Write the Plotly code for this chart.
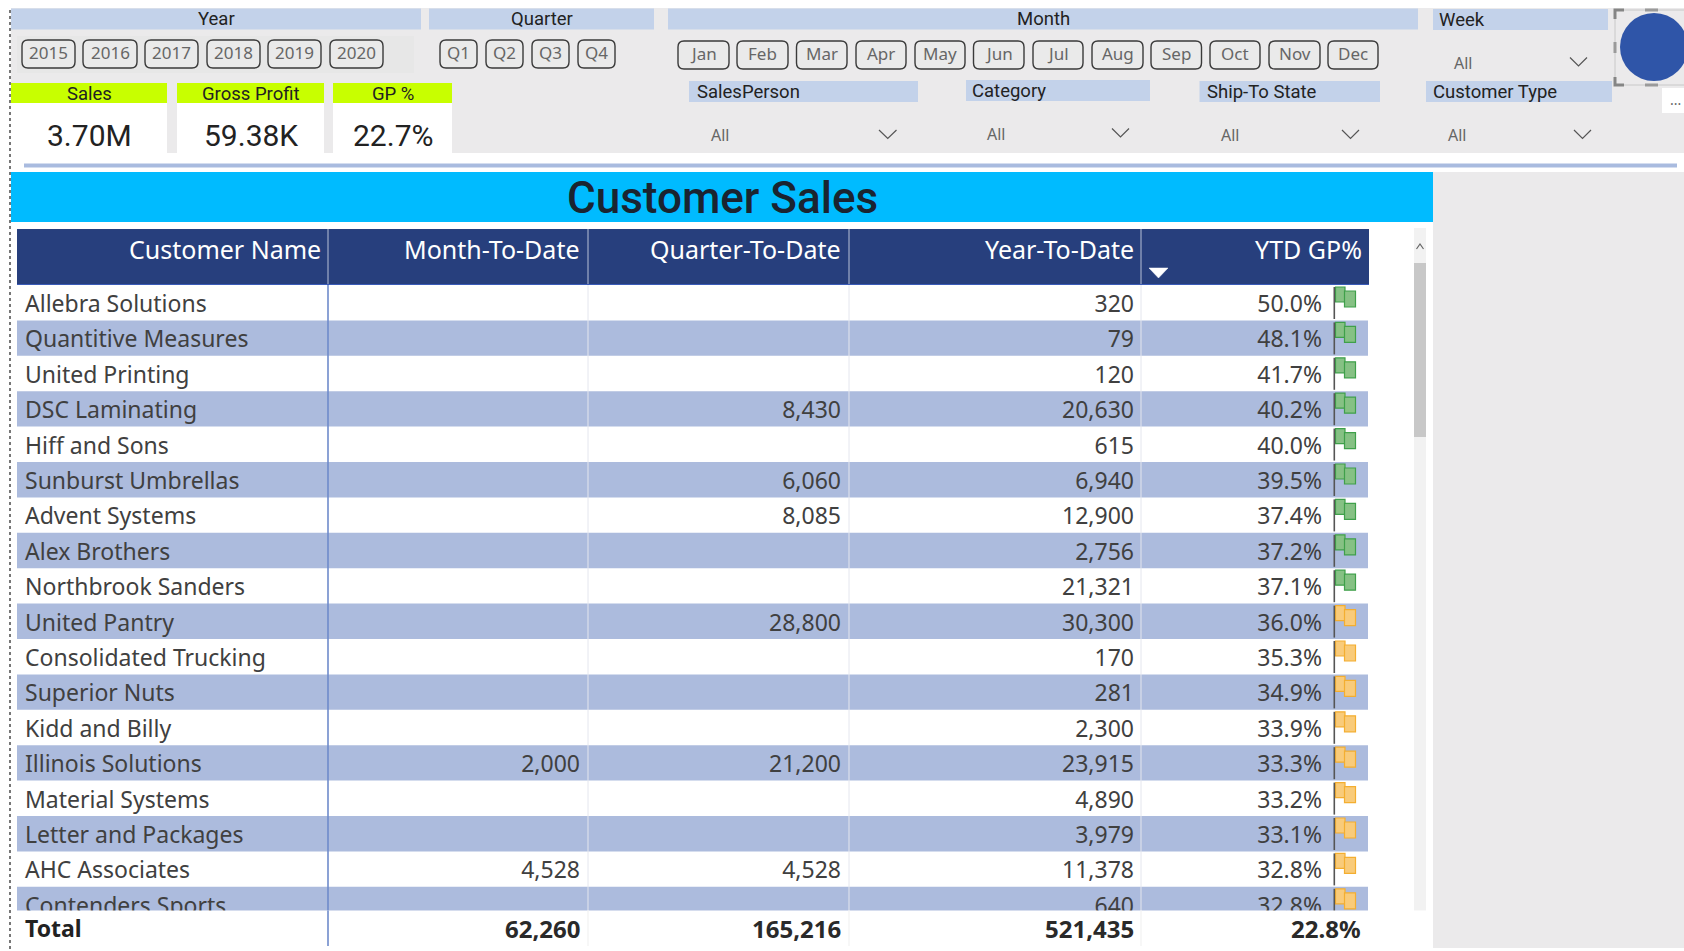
import plotly.graph_objects as go

# ---------- data ----------
YEARS = ["2015", "2016", "2017", "2018", "2019", "2020"]
QUARTERS = ["Q1", "Q2", "Q3", "Q4"]
MONTHS = ["Jan", "Feb", "Mar", "Apr", "May", "Jun", "Jul", "Aug", "Sep", "Oct", "Nov", "Dec"]
KPI_LABELS = ["Sales", "Gross Profit", "GP %"]
KPI_VALUES = ["3.70M", "59.38K", "22.7%"]
TITLE = "Customer Sales"
COLUMNS = ["Customer Name", "Month-To-Date", "Quarter-To-Date", "Year-To-Date", "YTD GP%"]
CUSTOMERS = ["Allebra Solutions", "Quantitive Measures", "United Printing", "DSC Laminating",
             "Hiff and Sons", "Sunburst Umbrellas", "Advent Systems", "Alex Brothers",
             "Northbrook Sanders", "United Pantry", "Consolidated Trucking", "Superior Nuts",
             "Kidd and Billy", "Illinois Solutions", "Material Systems", "Letter and Packages",
             "AHC Associates", "Contenders Sports"]
MTD = [None] * 13 + [2000, None, None, 4528, None]
QTD = [None, None, None, 8430, None, 6060, 8085, None, None, 28800, None, None, None,
       21200, None, None, 4528, None]
YTD = [320, 79, 120, 20630, 615, 6940, 12900, 2756, 21321, 30300, 170, 281, 2300,
       23915, 4890, 3979, 11378, 640]
GP = [50.0, 48.1, 41.7, 40.2, 40.0, 39.5, 37.4, 37.2, 37.1, 36.0, 35.3, 34.9, 33.9,
      33.3, 33.2, 33.1, 32.8, 32.8]
FLAG_STATUS = ["green"] * 9 + ["amber"] * 9
TOTALS = ["Total", "62,260", "165,216", "521,435", "22.8%"]

# ---------- layout constants (page pixels) ----------
W, H = 1684, 951
DIN = "Roboto"
BODY = "Noto Sans"
BG = "#EBEAEB"
SLICER = "#C3D2EA"
HEADER = "#273F7D"
BAND = "#ACBBDD"
TXT = "#404040"
ROW_TOP, ROW_H, BODY_BOTTOM, TOTAL_BOTTOM = 285.0, 35.4, 910.5, 946
SEP_X = [328, 588, 849, 1141]
RIGHT = [321, 580, 841, 1134, 1322]
TABLE_L, TABLE_R = 17, 1368

shapes, annos = [], []


def rect(x0, y0, x1, y1, fill, layer="below", line=None):
    shapes.append(dict(type="rect", x0=x0, y0=y0, x1=x1, y1=y1, fillcolor=fill,
                       line=line or dict(width=0), layer=layer))


def path(d, color, width=1.0, fill=None, layer="below", dash="solid"):
    shapes.append(dict(type="path", path=d, line=dict(color=color, width=width, dash=dash),
                       fillcolor=fill or "rgba(0,0,0,0)", layer=layer))


def vline(x, y0, y1, color, width=1.0, layer="below", dash="solid"):
    shapes.append(dict(type="line", x0=x, x1=x, y0=y0, y1=y1,
                       line=dict(color=color, width=width, dash=dash), layer=layer))


def label(x, y, text, size, color="#222222", anchor="center", family=DIN, weight=None):
    f = dict(size=size, color=color, family=family)
    if weight:
        f["weight"] = weight
    annos.append(dict(x=x, y=y, text=text, font=f, showarrow=False, xanchor=anchor,
                      yanchor="middle", borderpad=0, borderwidth=0))


def rounded(x0, y0, x1, y1, r=6):
    return (f"M{x0+r},{y0} L{x1-r},{y0} Q{x1},{y0} {x1},{y0+r} L{x1},{y1-r} Q{x1},{y1} {x1-r},{y1} "
            f"L{x0+r},{y1} Q{x0},{y1} {x0},{y1-r} L{x0},{y0+r} Q{x0},{y0} {x0+r},{y0} Z")


def chevron(x0, x1, y0, y1, color="#555555", layer="below", width=1.2):
    path(f"M{x0},{y0} L{(x0+x1)/2},{y1} L{x1},{y0}", color, width, layer=layer)


# ---------- slicer strip ----------
rect(11, 8, W, 153, BG)
rect(17, 36, 414, 73, "#E7E7E7")
for x0, x1, text in [(11, 421, "Year"), (429, 654, "Quarter"), (668, 1418, "Month")]:
    rect(x0, 8.5, x1, 29.5, SLICER)
    label((x0 + x1) / 2, 19, text, 18.5, "#222222")
rect(1433, 9, 1608, 30, SLICER)
label(1439, 20, "Week", 18.5, anchor="left")

YEAR_X = [(22, 75), (83, 137), (145, 198), (207, 260), (268, 321), (330, 383)]
QUARTER_X = [(440, 477), (486, 523), (532, 569), (578, 615)]
MONTH_X = [(678, 729), (737, 788), (796.5, 847), (856, 906), (915, 965), (973.5, 1024),
           (1033, 1083), (1092, 1143), (1151, 1201.5), (1210, 1260), (1269, 1320), (1328, 1378)]
for names, xs, y0, y1 in [(YEARS, YEAR_X, 40, 68), (QUARTERS, QUARTER_X, 40, 68), (MONTHS, MONTH_X, 41, 69)]:
    for name, (x0, x1) in zip(names, xs):
        path(rounded(x0, y0, x1, y1), "#3A3A3A", 1.4, "#EAEAEA")
        label((x0 + x1) / 2, (y0 + y1) / 2 - 1.5, name, 17, "#666666", family=BODY)

for x0, x1, y0, text, tx in [(689, 918, 81, "SalesPerson", 697), (966, 1150, 80, "Category", 972),
                             (1199.5, 1380, 81, "Ship-To State", 1207), (1426, 1612, 81, "Customer Type", 1433)]:
    rect(x0, y0, x1, y0 + 21, SLICER)
    label(tx, y0 + 11, text, 18.5, anchor="left")

for tx, ty, c0, c1, cy0, cy1 in [(711, 134.5, 879, 896.5, 130, 138.5), (987, 133.5, 1112, 1129, 128.5, 137),
                                 (1221, 134.5, 1342, 1359, 130, 138.5), (1448, 134.5, 1574, 1591, 130, 138.5),
                                 (1454, 62.5, 1570, 1587, 57.5, 66)]:
    label(tx, ty, "All", 16, "#666666", anchor="left", family=BODY)
    chevron(c0, c1, cy0, cy1)

# circle and selection frame
shapes.append(dict(type="circle", x0=1620, x1=1688, y0=13, y1=81, fillcolor="#2F55A8",
                   line=dict(width=0), layer="below"))
path("M1615,10 L1684,10 M1615,10 L1615,85 L1684,85", "#C8C8C8", 1.0)
path("M1615,19 L1615,10 L1624,10 M1615,77 L1615,85 L1624,85", "#858585", 3)
path("M1615,42 L1615,53 M1645,10 L1658,10 M1645,85 L1658,85", "#9A9A9A", 3)
rect(1662, 88, W, 113, "#FFFFFF")
label(1675, 99, "...", 14, "#666666", family=BODY)

# ---------- KPI cards ----------
for (x0, x1), name, val in zip([(11, 167), (177, 324), (333, 452)], KPI_LABELS, KPI_VALUES):
    rect(x0, 83, x1, 103, "#C8FF00")
    rect(x0, 103, x1, 153, "#FFFFFF")
    label((x0 + x1) / 2, 93.5, name, 18.5, "#222222")
    label((x0 + x1) / 2, 135, val, 30, "#222222")

# ---------- divider and banner ----------
rect(24, 163.5, 1677, 167.5, "#A9BBDF")
rect(1433, 172, W, 948, BG)
rect(11, 172, 1433, 222, "#00BBFF")
label(722, 197.5, TITLE, 44, "#1A2430", weight=500)

# ---------- table background ----------
rect(TABLE_L, 229, TABLE_R + 1, 284.5, HEADER)
shapes.append(dict(type="line", x0=TABLE_L, x1=TABLE_R + 1, y0=284.5, y1=284.5,
                   line=dict(color="#3A5BB8", width=1.2), layer="below"))
for x in SEP_X:
    vline(x, 229, 284, "#B9C2D8", 1.0)
for c, rx in zip(COLUMNS, [321, 580, 841, 1134, 1362]):
    label(rx, 248.5, c, 25, "#FFFFFF", anchor="right", family=BODY)
path("M1149,268 L1168,268 L1158.5,278 Z", "#FFFFFF", 0.5, "#FFFFFF")

for i in range(len(CUSTOMERS)):
    if i % 2:
        top = ROW_TOP + i * ROW_H
        rect(TABLE_L, top, TABLE_R, top + ROW_H, BAND)
for x in SEP_X[1:]:
    vline(x, ROW_TOP, TOTAL_BOTTOM, "#E4E6EE", 1.0)
vline(SEP_X[0], ROW_TOP, TOTAL_BOTTOM, "#6F8BCB", 1.6, layer="above")

# ---------- body text, from the data through scatter traces ----------
row_y = [ROW_TOP + (i + 0.5) * ROW_H + 3.5 for i in range(len(CUSTOMERS))]


def fmt(v):
    return "" if v is None else f"{v:,}"


columns = [
    (25, "middle right", CUSTOMERS),
    (RIGHT[1], "middle left", [fmt(v) for v in MTD]),
    (RIGHT[2], "middle left", [fmt(v) for v in QTD]),
    (RIGHT[3], "middle left", [fmt(v) for v in YTD]),
    (RIGHT[4], "middle left", [f"{v:.1f}%" for v in GP]),
]
traces = []
for x, pos, texts in columns:
    traces.append(go.Scatter(x=[x] * len(texts), y=row_y, text=texts, mode="text", textposition=pos,
                             textfont=dict(family=BODY, size=23, color=TXT),
                             hoverinfo="skip", showlegend=False, cliponaxis=False))

# ---------- flags ----------
FLAG_COLORS = {"green": ("#86C184", "#3FA04A"), "amber": ("#F9CB7A", "#F4AE30")}
for i, status in enumerate(FLAG_STATUS):
    top = ROW_TOP + i * ROW_H
    fill, edge = FLAG_COLORS[status]
    rect(1335.5, top + 2, 1345, top + 17, fill, "above", dict(color=edge, width=1.2))
    rect(1344.5, top + 6, 1355.5, top + 22, fill, "above", dict(color=edge, width=1.2))
    vline(1334.3, top + 2, top + 34, "#555555", 1.6, "above")

# ---------- total row on top of the clipped last row ----------
rect(TABLE_L, BODY_BOTTOM, 1433, 948, "#FFFFFF", "above")
vline(SEP_X[0], BODY_BOTTOM, TOTAL_BOTTOM, "#6F8BCB", 1.6, "above")
for x in SEP_X[1:]:
    vline(x, BODY_BOTTOM, TOTAL_BOTTOM, "#EFEFEF", 1.0, "above")
label(25, 928, TOTALS[0], 23, "#222222", anchor="left", family=BODY, weight=700)
for txt, rx in zip(TOTALS[1:], [580, 841, 1134, 1361]):
    label(rx, 928, txt, 24, "#2A2A2A", anchor="right", family=BODY, weight=700)

# ---------- scrollbar ----------
rect(1414, 228, 1426, 935, "#F2F2F2")
rect(1414, 263, 1426, 437, "#C8C8C8")
chevron(1416.5, 1423.5, 249, 244, "#666666", width=1.2)
chevron(1416.5, 1423.5, 914, 919, "#666666", width=1.2)

# ---------- left dotted guide ----------
vline(10, 10, H, "#555555", 1.6, "above", "dot")

fig = go.Figure(traces)
fig.update_layout(
    width=W, height=H, margin=dict(l=0, r=0, t=0, b=0),
    paper_bgcolor="#FFFFFF", plot_bgcolor="#FFFFFF",
    xaxis=dict(range=[0, W], visible=False, fixedrange=True),
    yaxis=dict(range=[H, 0], visible=False, fixedrange=True),
    shapes=shapes, annotations=annos, showlegend=False,
)
fig.write_html("out.html", config=dict(displayModeBar=False),
               post_script="document.body.style.margin='0';document.body.style.overflow='hidden';")
